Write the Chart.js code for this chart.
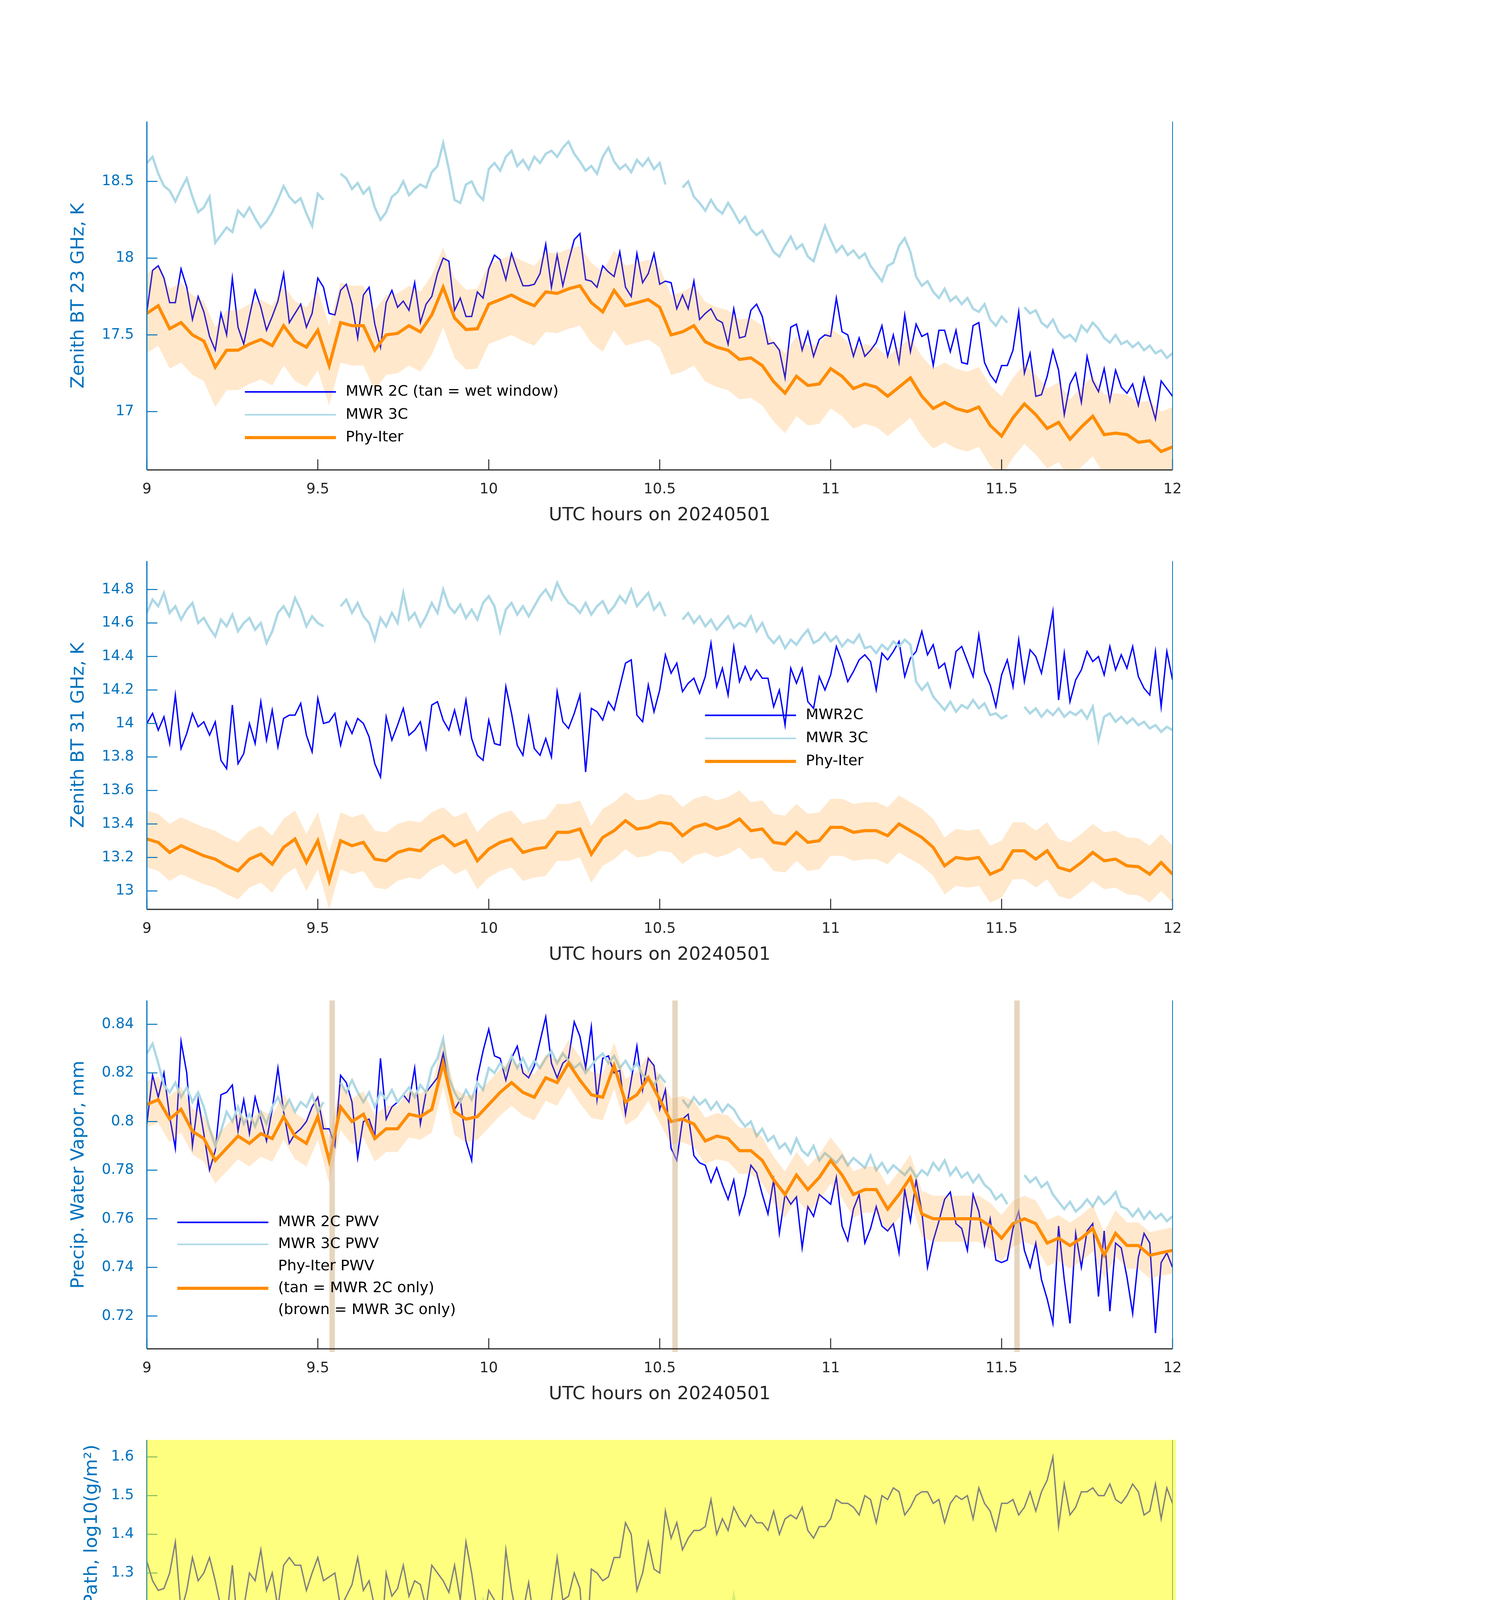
<!DOCTYPE html>
<html>
<head>
<meta charset="utf-8">
<title>MWR Phy-Iter 20240501</title>
<script src="https://cdn.jsdelivr.net/npm/chart.js@4.4.1/dist/chart.umd.min.js"></script>
<style>
  html, body { margin: 0; padding: 0; background: #fff; }
  #page { position: relative; width: 3825px; height: 6000px; background: #fff; }
  #page canvas { position: absolute; left: 0; }
</style>
</head>
<body>
<div id="page"></div>
<script>
// UTC hours: MWR samples every minute, Phy-Iter every two minutes
const minutes = Array.from({length: 181}, (_, i) => 9 + i / 60);
const phyTimes = Array.from({length: 91}, (_, i) => 9 + i / 30);
const timeTicks = [9, 9.5, 10, 10.5, 11, 11.5, 12];

// ---- zenith BT 23 GHz, K
const tick23 = [17, 17.5, 18, 18.5];
const bt23Mwr2c = [
  17.65,17.92,17.95,17.87,17.71,17.71,17.93,17.81,17.60,17.75,
  17.65,17.49,17.40,17.64,17.50,17.87,17.55,17.44,17.62,17.79,
  17.68,17.53,17.62,17.72,17.90,17.58,17.64,17.70,17.55,17.64,
  17.87,17.81,17.64,17.63,17.79,17.83,17.70,17.48,17.76,17.81,
  17.57,17.42,17.71,17.79,17.68,17.72,17.66,17.84,17.58,17.70,
  17.75,17.90,18.00,17.98,17.66,17.74,17.62,17.62,17.78,17.74,
  17.93,18.02,17.99,17.86,18.03,17.92,17.82,17.82,17.83,17.90,
  18.09,17.81,18.02,17.82,17.98,18.12,18.16,17.86,17.85,17.81,
  17.95,17.91,17.88,18.04,17.81,17.75,18.03,17.84,17.90,18.03,
  17.83,17.85,17.84,17.67,17.76,17.67,17.85,17.60,17.64,17.67,
  17.60,17.58,17.44,17.67,17.48,17.49,17.66,17.70,17.62,17.44,
  17.45,17.40,17.22,17.55,17.57,17.40,17.52,17.36,17.47,17.50,
  17.49,17.74,17.52,17.50,17.36,17.48,17.36,17.40,17.45,17.56,
  17.36,17.50,17.32,17.63,17.39,17.57,17.49,17.51,17.30,17.53,
  17.53,17.39,17.53,17.32,17.31,17.56,17.58,17.32,17.24,17.19,
  17.30,17.30,17.40,17.65,17.25,17.38,17.10,17.11,17.23,17.40,
  17.27,16.98,17.18,17.25,17.06,17.36,17.20,17.13,17.28,17.07,
  17.27,17.16,17.12,17.18,17.04,17.22,17.08,16.95,17.20,17.15,17.10
];
const bt23Mwr3c = [
  18.62,18.66,18.55,18.47,18.44,18.37,18.45,18.52,18.40,18.30,
  18.33,18.40,18.10,18.15,18.20,18.17,18.31,18.27,18.33,18.26,
  18.20,18.24,18.30,18.38,18.47,18.40,18.36,18.39,18.29,18.21,
  18.42,18.38,null,null,18.55,18.52,18.45,18.49,18.42,18.46,
  18.33,18.25,18.30,18.40,18.43,18.50,18.41,18.45,18.48,18.46,
  18.56,18.60,18.75,18.58,18.38,18.36,18.48,18.50,18.42,18.38,
  18.58,18.62,18.57,18.66,18.70,18.60,18.64,18.58,18.66,18.62,
  18.68,18.70,18.66,18.72,18.76,18.68,18.63,18.57,18.60,18.55,
  18.66,18.72,18.63,18.58,18.61,18.56,18.64,18.60,18.65,18.58,
  18.62,18.48,null,null,18.46,18.50,18.40,18.36,18.31,18.38,
  18.32,18.29,18.36,18.30,18.23,18.27,18.19,18.15,18.18,18.11,
  18.04,18.01,18.08,18.14,18.06,18.09,18.01,17.98,18.10,18.21,
  18.12,18.04,18.08,18.02,18.05,18.00,18.03,17.95,17.90,17.85,
  17.95,17.97,18.08,18.13,18.04,17.88,17.82,17.85,17.78,17.74,
  17.80,17.72,17.75,17.70,17.74,17.67,17.65,17.70,17.60,17.56,
  17.62,17.58,null,null,17.68,17.64,17.66,17.58,17.55,17.60,
  17.52,17.48,17.50,17.46,17.56,17.52,17.58,17.54,17.48,17.45,
  17.50,17.44,17.46,17.42,17.45,17.40,17.43,17.38,17.40,17.35,17.38
];
const bt23Phy = [
  17.64,17.69,17.54,17.58,17.50,17.46,17.29,17.40,17.40,17.44,
  17.47,17.43,17.56,17.46,17.42,17.53,17.30,17.58,17.56,17.56,
  17.40,17.50,17.51,17.56,17.52,17.63,17.81,17.61,17.535,17.54,
  17.70,17.73,17.76,17.72,17.69,17.78,17.77,17.80,17.82,17.71,
  17.65,17.79,17.69,17.71,17.73,17.68,17.50,17.52,17.56,17.455,
  17.42,17.40,17.34,17.35,17.30,17.195,17.12,17.23,17.17,17.18,
  17.28,17.23,17.15,17.18,17.16,17.10,17.16,17.22,17.10,17.02,
  17.06,17.02,17.00,17.03,16.91,16.84,16.96,17.05,16.98,16.89,
  16.93,16.82,16.90,16.97,16.85,16.86,16.85,16.80,16.81,16.74,16.77
];
const bt23Err = 0.26;

// ---- zenith BT 31 GHz, K
const tick31 = [13, 13.2, 13.4, 13.6, 13.8, 14, 14.2, 14.4, 14.6, 14.8];
const bt31Mwr2c = [
  14.00,14.06,13.96,14.04,13.88,14.17,13.85,13.94,14.06,13.98,
  14.01,13.93,14.01,13.78,13.73,14.11,13.76,13.82,14.00,13.88,
  14.13,13.90,14.08,13.86,14.03,14.05,14.05,14.12,13.93,13.83,
  14.15,14.00,14.01,14.06,13.87,14.01,13.94,14.03,14.00,13.92,
  13.76,13.68,14.04,13.90,13.99,14.09,13.93,13.96,14.01,13.85,
  14.11,14.13,14.02,13.96,14.08,13.94,14.14,13.91,13.81,13.78,
  14.02,13.88,13.87,14.22,14.06,13.87,13.81,14.04,13.85,13.81,
  13.91,13.80,14.19,14.01,13.97,14.06,14.17,13.71,14.09,14.07,
  14.02,14.13,14.08,14.22,14.36,14.38,14.05,14.01,14.23,14.07,
  14.20,14.41,14.30,14.36,14.19,14.24,14.27,14.18,14.28,14.48,
  14.22,14.33,14.17,14.46,14.25,14.34,14.26,14.32,14.27,14.27,
  14.10,14.20,13.99,14.33,14.24,14.33,14.13,14.09,14.28,14.20,
  14.29,14.46,14.37,14.25,14.31,14.38,14.41,14.37,14.20,14.42,
  14.38,14.43,14.49,14.28,14.39,14.43,14.55,14.41,14.47,14.33,
  14.36,14.22,14.43,14.46,14.37,14.28,14.53,14.31,14.23,14.10,
  14.29,14.38,14.22,14.50,14.25,14.44,14.40,14.30,14.48,14.67,
  14.14,14.42,14.13,14.26,14.32,14.43,14.37,14.40,14.29,14.46,
  14.32,14.41,14.33,14.46,14.28,14.21,14.17,14.43,14.10,14.43,14.26
];
const bt31Mwr3c = [
  14.66,14.74,14.70,14.78,14.66,14.70,14.62,14.68,14.72,14.60,
  14.63,14.57,14.52,14.62,14.58,14.65,14.55,14.60,14.63,14.56,
  14.60,14.48,14.55,14.66,14.70,14.64,14.75,14.68,14.58,14.64,
  14.60,14.58,null,null,14.70,14.74,14.66,14.72,14.64,14.60,
  14.50,14.63,14.58,14.66,14.60,14.78,14.62,14.66,14.58,14.64,
  14.72,14.66,14.80,14.70,14.66,14.71,14.63,14.68,14.62,14.72,
  14.76,14.70,14.55,14.68,14.72,14.65,14.70,14.64,14.70,14.76,
  14.80,14.74,14.84,14.77,14.72,14.70,14.66,14.72,14.65,14.70,
  14.73,14.66,14.70,14.76,14.72,14.80,14.70,14.74,14.78,14.68,
  14.72,14.64,null,null,14.62,14.66,14.60,14.64,14.58,14.62,
  14.56,14.60,14.64,14.57,14.60,14.58,14.64,14.55,14.60,14.52,
  14.48,14.52,14.45,14.50,14.47,14.52,14.56,14.48,14.50,14.54,
  14.49,14.52,14.46,14.50,14.48,14.53,14.45,14.46,14.42,14.47,
  14.44,14.49,14.46,14.50,14.47,14.25,14.20,14.24,14.16,14.12,
  14.08,14.13,14.07,14.11,14.09,14.14,14.09,14.12,14.05,14.06,
  14.03,14.05,null,null,14.10,14.06,14.09,14.04,14.08,14.05,
  14.09,14.04,14.07,14.05,14.08,14.03,14.10,13.90,14.04,14.06,
  14.01,14.04,14.00,14.03,13.99,14.01,13.97,13.99,13.95,13.98,13.96
];
const bt31Phy = [
  13.31,13.29,13.23,13.27,13.24,13.21,13.19,13.15,13.12,13.19,
  13.22,13.16,13.26,13.31,13.17,13.30,13.06,13.30,13.27,13.29,
  13.19,13.18,13.23,13.25,13.24,13.30,13.33,13.27,13.30,13.18,
  13.25,13.29,13.31,13.23,13.25,13.26,13.35,13.35,13.37,13.22,
  13.32,13.36,13.42,13.37,13.38,13.41,13.40,13.33,13.38,13.40,
  13.37,13.39,13.43,13.36,13.37,13.29,13.28,13.35,13.29,13.30,
  13.38,13.38,13.35,13.36,13.36,13.33,13.40,13.36,13.32,13.26,
  13.15,13.20,13.19,13.20,13.10,13.13,13.24,13.24,13.19,13.24,
  13.14,13.12,13.17,13.23,13.18,13.19,13.15,13.145,13.10,13.17,13.10
];
const bt31Err = 0.17;

// ---- precipitable water vapor, mm
const tickPwv = [0.72, 0.74, 0.76, 0.78, 0.8, 0.82, 0.84];
const pwvMwr2c = [
  0.799,0.819,0.810,0.820,0.802,0.789,0.833,0.820,0.790,0.809,
  0.795,0.780,0.788,0.811,0.812,0.815,0.796,0.809,0.795,0.810,
  0.801,0.792,0.805,0.822,0.804,0.791,0.795,0.797,0.800,0.806,
  0.810,0.797,0.797,0.790,0.819,0.816,0.808,0.785,0.800,0.801,
  0.794,0.826,0.801,0.806,0.808,0.811,0.808,0.822,0.799,0.812,
  0.815,0.818,0.828,0.815,0.805,0.809,0.792,0.784,0.818,0.829,
  0.838,0.827,0.826,0.817,0.826,0.831,0.820,0.818,0.823,0.833,
  0.843,0.824,0.818,0.824,0.826,0.841,0.835,0.822,0.839,0.809,
  0.826,0.827,0.820,0.821,0.803,0.817,0.831,0.813,0.826,0.823,
  0.805,0.813,0.789,0.784,0.801,0.803,0.786,0.783,0.782,0.775,
  0.781,0.774,0.768,0.776,0.762,0.770,0.782,0.779,0.770,0.762,
  0.776,0.754,0.770,0.766,0.769,0.748,0.765,0.761,0.770,0.768,
  0.766,0.777,0.757,0.751,0.764,0.770,0.750,0.756,0.765,0.757,
  0.755,0.758,0.746,0.772,0.759,0.776,0.763,0.740,0.751,0.759,
  0.768,0.771,0.758,0.756,0.747,0.770,0.763,0.749,0.760,0.743,
  0.742,0.743,0.756,0.763,0.747,0.740,0.750,0.735,0.727,0.717,
  0.757,0.735,0.717,0.754,0.740,0.755,0.758,0.728,0.755,0.722,
  0.750,0.748,0.736,0.721,0.744,0.754,0.750,0.713,0.742,0.746,0.740
];
const pwvMwr3c = [
  0.828,0.832,0.824,0.815,0.812,0.816,0.810,0.814,0.808,0.812,
  0.806,0.797,0.790,0.796,0.804,0.800,0.806,0.799,0.803,0.798,
  0.804,0.799,0.806,0.810,0.805,0.809,0.804,0.808,0.806,0.811,
  0.804,0.808,null,null,0.816,0.812,0.817,0.812,0.808,0.812,
  0.806,0.812,0.809,0.813,0.808,0.811,0.814,0.810,0.815,0.812,
  0.822,0.826,0.834,0.818,0.812,0.808,0.813,0.809,0.816,0.813,
  0.822,0.820,0.824,0.821,0.827,0.822,0.826,0.821,0.825,0.822,
  0.826,0.829,0.824,0.828,0.825,0.822,0.824,0.820,0.823,0.826,
  0.828,0.824,0.827,0.822,0.825,0.821,0.824,0.819,0.818,0.815,
  0.819,0.816,null,null,0.809,0.806,0.810,0.807,0.809,0.805,
  0.808,0.804,0.807,0.805,0.801,0.798,0.800,0.794,0.797,0.792,
  0.794,0.789,0.791,0.787,0.793,0.788,0.786,0.790,0.784,0.787,
  0.785,0.783,0.786,0.782,0.785,0.783,0.781,0.786,0.780,0.783,
  0.779,0.782,0.780,0.778,0.781,0.777,0.780,0.778,0.783,0.780,
  0.784,0.778,0.781,0.777,0.779,0.775,0.778,0.774,0.772,0.768,
  0.770,0.766,null,null,0.778,0.775,0.777,0.773,0.775,0.770,
  0.767,0.764,0.767,0.763,0.765,0.768,0.765,0.769,0.766,0.768,
  0.771,0.765,0.764,0.761,0.764,0.760,0.763,0.760,0.762,0.759,0.761
];
const pwvPhy = [
  0.807,0.809,0.801,0.805,0.796,0.793,0.784,0.789,0.794,0.791,
  0.795,0.793,0.802,0.794,0.791,0.802,0.784,0.806,0.800,0.803,
  0.793,0.797,0.797,0.803,0.802,0.805,0.824,0.804,0.801,0.802,
  0.807,0.812,0.816,0.812,0.810,0.818,0.816,0.824,0.817,0.811,
  0.810,0.823,0.808,0.811,0.818,0.809,0.800,0.801,0.799,0.792,
  0.794,0.793,0.788,0.788,0.784,0.776,0.770,0.778,0.772,0.777,
  0.784,0.778,0.770,0.772,0.772,0.764,0.770,0.777,0.762,0.760,
  0.760,0.760,0.760,0.760,0.757,0.752,0.758,0.760,0.758,0.750,
  0.752,0.749,0.752,0.756,0.745,0.754,0.749,0.749,0.745,0.746,0.747
];
const pwvErr = 0.0095;
const brownTimes = [9.542, 10.545, 11.545];

// ---- log10 liquid water path, log10(g/m2)
const tickLwp = [0.8, 0.9, 1, 1.1, 1.2, 1.3, 1.4, 1.5, 1.6];
const lwpMwr2c = [
  1.33,1.28,1.255,1.26,1.30,1.38,1.20,1.255,1.34,1.28,
  1.30,1.34,1.28,1.21,1.18,1.32,1.15,1.21,1.30,1.28,
  1.36,1.255,1.30,1.21,1.32,1.34,1.32,1.32,1.255,1.30,
  1.34,1.28,1.29,1.30,1.21,1.24,1.27,1.34,1.255,1.28,
  1.21,1.10,1.30,1.24,1.26,1.32,1.24,1.28,1.27,1.21,
  1.32,1.30,1.28,1.25,1.32,1.23,1.38,1.30,1.20,1.16,
  1.255,1.23,1.15,1.36,1.255,1.18,1.20,1.275,1.17,1.12,
  1.15,1.23,1.34,1.23,1.24,1.30,1.26,1.07,1.31,1.30,
  1.28,1.29,1.34,1.34,1.43,1.40,1.255,1.30,1.38,1.31,
  1.30,1.46,1.39,1.43,1.36,1.39,1.41,1.41,1.42,1.49,
  1.40,1.44,1.41,1.47,1.44,1.42,1.45,1.43,1.43,1.41,
  1.46,1.40,1.44,1.45,1.44,1.47,1.41,1.39,1.42,1.42,
  1.44,1.49,1.48,1.48,1.47,1.45,1.50,1.49,1.43,1.50,
  1.49,1.52,1.51,1.45,1.47,1.50,1.51,1.51,1.48,1.49,
  1.43,1.48,1.50,1.49,1.50,1.44,1.52,1.48,1.46,1.41,
  1.48,1.48,1.49,1.45,1.47,1.51,1.46,1.51,1.54,1.60,
  1.42,1.53,1.45,1.47,1.51,1.51,1.52,1.50,1.50,1.53,
  1.49,1.48,1.50,1.53,1.51,1.45,1.46,1.53,1.44,1.52,1.48
];
const lwpMwr3c = [
  1.17,1.19,1.14,1.18,1.22,1.15,1.19,1.16,1.18,1.15,
  1.19,1.17,1.20,1.16,1.19,1.17,1.15,1.18,1.20,1.16,
  1.13,1.17,1.09,1.12,1.19,1.16,1.20,1.17,1.15,1.18,
  1.12,1.16,null,null,1.20,1.17,1.21,1.18,1.16,1.19,
  1.13,1.09,1.10,1.16,1.18,1.22,1.15,1.17,1.14,1.18,
  1.15,1.17,1.19,1.14,1.18,1.15,1.17,1.13,1.18,1.23,
  1.17,1.19,1.15,1.07,1.16,1.18,1.14,1.17,1.15,1.19,
  1.16,1.20,1.17,1.19,1.15,1.18,1.21,1.17,1.15,1.19,
  1.16,1.20,1.17,1.15,1.19,1.22,1.17,1.19,1.15,1.18,
  1.14,1.17,null,null,1.16,1.19,1.15,1.18,1.14,1.17,
  1.15,1.18,1.14,1.24,1.16,1.19,1.15,1.20,1.14,1.17,
  1.15,1.12,1.16,1.13,1.15,1.11,1.16,1.18,1.14,1.17,
  1.15,1.19,1.16,1.18,1.14,1.17,1.15,1.11,1.08,1.13,
  1.16,1.14,1.17,1.15,1.18,1.08,1.04,1.06,1.00,0.98,
  1.00,0.96,0.96,0.94,0.97,0.92,0.95,0.90,0.94,0.91,
  0.88,0.93,null,null,0.96,0.92,0.94,0.89,0.95,0.91,
  0.97,0.93,0.96,0.90,0.98,0.95,1.02,0.92,0.97,0.84,
  0.95,0.92,0.96,0.90,0.82,0.96,0.92,0.98,0.86,0.94,0.92
];

// ---- Phy-Iter data quality flag
const tickDq = [0, 2, 4, 6, 8, 10];
const dqTimes = [9, 12];
const dqFlag = [5, 5];

// ---- layout & styles
const PAGE_W = 3825, PAD_TOP = 40, PLOT_H = 907, XAXIS_H = 170;
const PLOT_L = 376, PLOT_R = 3002;
const CANVAS_H = PAD_TOP + PLOT_H + XAXIS_H;
const AXIS_BLUE = '#0072BD', AXIS_DARK = '#262626';
const BLUE = '#0000FF', LIGHT_BLUE = '#ADD8E6', ORANGE = '#FF8C00', PURPLE = '#7E1E80';
const BAND = 'rgba(255,140,0,0.2)';
const FONT = 'DejaVu Sans';

const fmt = v => String(Math.round(v * 10000) / 10000);
const pts = (xs, ys) => xs.map((x, i) => ({x: x, y: ys[i]}));

function lineSet(xs, ys, color, width, order) {
  return {data: pts(xs, ys), borderColor: color, borderWidth: width, order: order,
          pointRadius: 0, fill: false, spanGaps: false};
}
function bandSets(xs, ys, err) {
  const none = 'rgba(0,0,0,0)';
  return [
    {data: pts(xs, ys.map(v => v + err)), borderColor: none, borderWidth: 0, pointRadius: 0,
     fill: '+1', backgroundColor: BAND, order: 2},
    {data: pts(xs, ys.map(v => v - err)), borderColor: none, borderWidth: 0, pointRadius: 0,
     fill: false, order: 2}
  ];
}

function line(ctx, x1, y1, x2, y2) {
  ctx.beginPath(); ctx.moveTo(x1, y1); ctx.lineTo(x2, y2); ctx.stroke();
}

const matlabAxes = {
  id: 'matlabAxes',
  afterDatasetsDraw(chart, args, o) {
    if (!o.bars) return;
    const {ctx, chartArea: a, scales: {x}} = chart;
    ctx.save();
    ctx.fillStyle = 'rgba(210,180,140,0.55)';
    o.bars.forEach(t => {
      const x1 = x.getPixelForValue(t - 0.008), x2 = x.getPixelForValue(t + 0.008);
      ctx.fillRect(x1, a.top, x2 - x1, a.height + 8);
    });
    ctx.restore();
  },
  afterDraw(chart, args, o) {
    const {ctx, chartArea: a, scales: {x, y}} = chart;
    ctx.save();
    ctx.lineCap = 'butt';
    // inward tick marks
    ctx.lineWidth = 2.5;
    ctx.strokeStyle = AXIS_DARK;
    x.ticks.forEach(t => { const px = x.getPixelForValue(t.value); line(ctx, px, a.bottom, px, a.bottom - 27); });
    ctx.strokeStyle = AXIS_BLUE;
    y.ticks.forEach(t => { const py = y.getPixelForValue(t.value); line(ctx, a.left, py, a.left + 27, py); });
    // axis lines
    ctx.lineWidth = 3;
    ctx.strokeStyle = AXIS_DARK;
    line(ctx, a.left, a.bottom, a.right, a.bottom);
    ctx.strokeStyle = AXIS_BLUE;
    line(ctx, a.left, a.top, a.left, a.bottom);
    ctx.lineWidth = 2;
    line(ctx, a.right, a.top, a.right, a.bottom);
    // translucent flag patch
    if (o.overlay) {
      ctx.fillStyle = o.overlay;
      ctx.fillRect(a.left, a.top, a.width + 9, a.height + 8);
    }
    // legend
    if (o.legend) {
      const L = o.legend;
      ctx.font = '38px "' + FONT + '"';
      ctx.textBaseline = 'middle';
      ctx.textAlign = 'left';
      L.items.forEach((it, i) => {
        const yy = a.top + L.y + i * L.dy;
        const x0 = a.left + L.x, x1 = x0 + 233;
        if (it.color) {
          ctx.strokeStyle = it.color;
          ctx.lineWidth = it.w;
          line(ctx, x0, yy, x1, yy);
          if (it.marker) {
            const cx = (x0 + x1) / 2, s = 11;
            ctx.lineWidth = 4;
            line(ctx, cx - s, yy - s, cx + s, yy + s);
            line(ctx, cx - s, yy + s, cx + s, yy - s);
          }
        }
        ctx.fillStyle = '#000';
        ctx.fillText(it.text, x1 + 25, yy);
      });
    }
    ctx.restore();
  }
};

const page = document.getElementById('page');

function makePanel(p) {
  const cv = document.createElement('canvas');
  cv.width = PAGE_W;
  cv.height = CANVAS_H;
  cv.style.top = (p.plotTop - PAD_TOP) + 'px';
  cv.style.width = PAGE_W + 'px';
  cv.style.height = CANVAS_H + 'px';
  page.appendChild(cv);
  return new Chart(cv.getContext('2d'), {
    type: 'line',
    data: {datasets: p.datasets},
    options: {
      responsive: false,
      animation: false,
      devicePixelRatio: 1,
      layout: {padding: {left: 0, right: PAGE_W - PLOT_R, top: PAD_TOP, bottom: 0}},
      elements: {point: {radius: 0}, line: {tension: 0}},
      plugins: {
        legend: {display: false},
        tooltip: {enabled: false},
        matlabAxes: {legend: p.legend, bars: p.bars, overlay: p.overlay}
      },
      scales: {
        x: {
          type: 'linear', min: 9, max: 12, bounds: 'data',
          grid: {display: false, drawTicks: false},
          border: {display: false},
          afterBuildTicks: s => { s.ticks = timeTicks.map(v => ({value: v})); },
          afterFit: s => { s.height = XAXIS_H; },
          ticks: {color: AXIS_DARK, font: {family: FONT, size: 37}, padding: 28,
                  maxRotation: 0, minRotation: 0, autoSkip: false, callback: fmt},
          title: {display: true, text: 'UTC hours on 20240501', color: AXIS_DARK,
                  font: {family: FONT, size: 47}, padding: {top: 0, bottom: 25}}
        },
        y: {
          type: 'linear', min: p.yMin, max: p.yMax, bounds: 'data',
          grid: {display: false, drawTicks: false},
          border: {display: false},
          afterBuildTicks: s => { s.ticks = p.yTicks.map(v => ({value: v})); },
          afterFit: s => { s.width = PLOT_L; },
          ticks: {color: AXIS_BLUE, font: {family: FONT, size: 37}, padding: 33,
                  autoSkip: false, callback: fmt},
          title: {display: true, text: p.yTitle, color: AXIS_BLUE,
                  font: {family: FONT, size: 47}, padding: {top: p.yTitleX - 28.2, bottom: 0}}
        }
      }
    },
    plugins: [matlabAxes]
  });
}

makePanel({
  plotTop: 296, yMin: 16.62, yMax: 18.89, yTicks: tick23,
  yTitle: 'Zenith BT 23 GHz, K', yTitleX: 202,
  datasets: [
    lineSet(minutes, bt23Mwr2c, BLUE, 3.5, 4),
    lineSet(minutes, bt23Mwr3c, LIGHT_BLUE, 6, 3),
    ...bandSets(phyTimes, bt23Phy, bt23Err),
    lineSet(phyTimes, bt23Phy, ORANGE, 8, 1)
  ],
  legend: {x: 251, y: 692, dy: 58.5, items: [
    {text: 'MWR 2C (tan = wet window)', color: BLUE, w: 4},
    {text: 'MWR 3C', color: LIGHT_BLUE, w: 4},
    {text: 'Phy-Iter', color: ORANGE, w: 8}
  ]}
});

makePanel({
  plotTop: 1421, yMin: 12.89, yMax: 14.97, yTicks: tick31,
  yTitle: 'Zenith BT 31 GHz, K', yTitleX: 202,
  datasets: [
    lineSet(minutes, bt31Mwr2c, BLUE, 3.5, 4),
    lineSet(minutes, bt31Mwr3c, LIGHT_BLUE, 6, 3),
    ...bandSets(phyTimes, bt31Phy, bt31Err),
    lineSet(phyTimes, bt31Phy, ORANGE, 8, 1)
  ],
  legend: {x: 1429, y: 395, dy: 59, items: [
    {text: 'MWR2C', color: BLUE, w: 4},
    {text: 'MWR 3C', color: LIGHT_BLUE, w: 4},
    {text: 'Phy-Iter', color: ORANGE, w: 8}
  ]}
});

makePanel({
  plotTop: 2546, yMin: 0.7065, yMax: 0.8498, yTicks: tickPwv,
  yTitle: 'Precip. Water Vapor, mm', yTitleX: 202,
  datasets: [
    lineSet(minutes, pwvMwr2c, BLUE, 3.5, 4),
    lineSet(minutes, pwvMwr3c, LIGHT_BLUE, 6, 3),
    ...bandSets(phyTimes, pwvPhy, pwvErr),
    lineSet(phyTimes, pwvPhy, ORANGE, 8, 1)
  ],
  bars: brownTimes,
  legend: {x: 78, y: 568, dy: 56.3, items: [
    {text: 'MWR 2C PWV', color: BLUE, w: 4},
    {text: 'MWR 3C PWV', color: LIGHT_BLUE, w: 4},
    {text: 'Phy-Iter PWV'},
    {text: '(tan = MWR 2C only)', color: ORANGE, w: 8},
    {text: '(brown = MWR 3C only)'}
  ]}
});

makePanel({
  plotTop: 3671, yMin: 0.7435, yMax: 1.644, yTicks: tickLwp,
  yTitle: 'log10 Liquid Water Path, log10(g/m²)', yTitleX: 236,
  datasets: [
    lineSet(minutes, lwpMwr2c, BLUE, 3.5, 4),
    lineSet(minutes, lwpMwr3c, LIGHT_BLUE, 6, 3)
  ],
  overlay: 'rgba(255,255,0,0.5)',
  legend: {x: 172, y: 668, dy: 58, items: [
    {text: 'MWR 2C LWP', color: BLUE, w: 4},
    {text: 'MWR 3C LWP', color: LIGHT_BLUE, w: 4},
    {text: 'Phy-Iter LWP', color: ORANGE, w: 8, marker: true},
    {text: 'Adiabatic LWP', color: PURPLE, w: 4, marker: true}
  ]}
});

makePanel({
  plotTop: 4796, yMin: -0.5, yMax: 11.5, yTicks: tickDq,
  yTitle: 'MWR Phy Iter DQ Flag', yTitleX: 243,
  datasets: [
    Object.assign(lineSet(dqTimes, dqFlag, ORANGE, 7, 1),
                  {borderDash: [0.5, 9.5], borderCapStyle: 'round'})
  ]
});
</script>
</body>
</html>
